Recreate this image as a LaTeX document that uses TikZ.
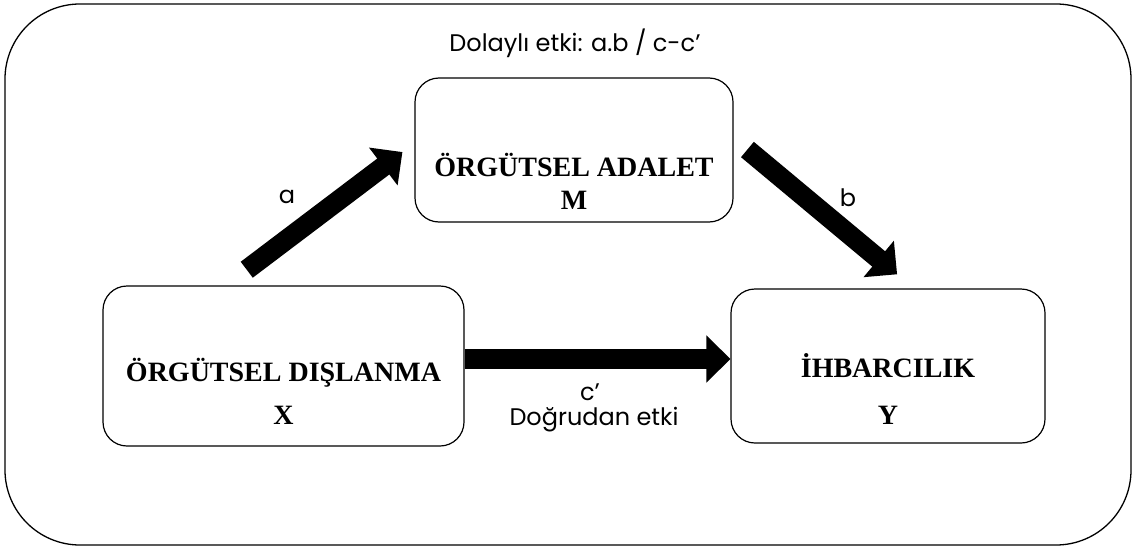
\documentclass[tikz,border=0pt]{standalone}
\usepackage{fontspec}
\setmainfont{Liberation Serif}
\newfontfamily\gothicfont{Poppins}
\usetikzlibrary{arrows.meta}

\begin{document}
\begin{tikzpicture}[x=1pt,y=-1pt,
            box/.style={draw,rounded corners=24pt,line width=1.2pt,inner sep=0pt},
            title/.style={font=\fontsize{28}{32}\selectfont\bfseries}]
            \tikzstyle{frame}=[draw,rounded corners=75pt,line width=1.3pt]
            \tikzstyle{lbl}=[font=\gothicfont\fontsize{24}{28}\selectfont]
            \tikzstyle{bigarrow}=[line width=20pt,-{Triangle[length=24pt,width=46pt]}]
            \useasboundingbox (0,0) rectangle (1136,549);
            \draw[frame] (5,4) rectangle (1131,545);
            % the three variables
            \node[box,minimum width=318pt,minimum height=144pt] (M) at (574,150) {};
            \node[box,minimum width=361pt,minimum height=160pt] (X) at (283.5,366) {};
            \node[box,minimum width=314pt,minimum height=154pt] (Y) at (888,366) {};
            \node[title] (Mtitle) at ([yshift=-15pt]M.center) {ÖRGÜTSEL ADALET};
            \node[title] (Mvar) at ([yshift=-50pt]M.center) {M};
            \node[title] (Xtitle) at ([yshift=-7pt]X.center) {ÖRGÜTSEL DIŞLANMA};
            \node[title] (Xvar) at ([yshift=-49pt]X.center) {X};
            \node[title] (Ytitle) at ([yshift=0pt]Y.center) {İHBARCILIK};
            \node[title] (Yvar) at ([yshift=-49pt]Y.center) {Y};
            % paths
            \draw[bigarrow,shorten <=26pt,shorten >=15pt] ([xshift=-57.5pt]X.north) -- ([yshift=7pt]M.west);
            \draw[bigarrow,shorten <=18pt,shorten >=22pt] ([yshift=12pt]M.east) -- ([xshift=26pt]Y.north);
            \draw[bigarrow] ([yshift=7pt]X.east) -- ([yshift=7pt]Y.west);
            \node[lbl] (la) at (287,197) {a};
            \node[lbl] (lb) at (848,198) {b};
            \node[lbl] (lc) at (590,392) {c’};
            \node[lbl] (direct) at (594,420) {Doğrudan etki};
            \node[lbl] (indirect) at (575,43) {Dolaylı etki: a.b / c-c’};
\end{tikzpicture}
\end{document}
